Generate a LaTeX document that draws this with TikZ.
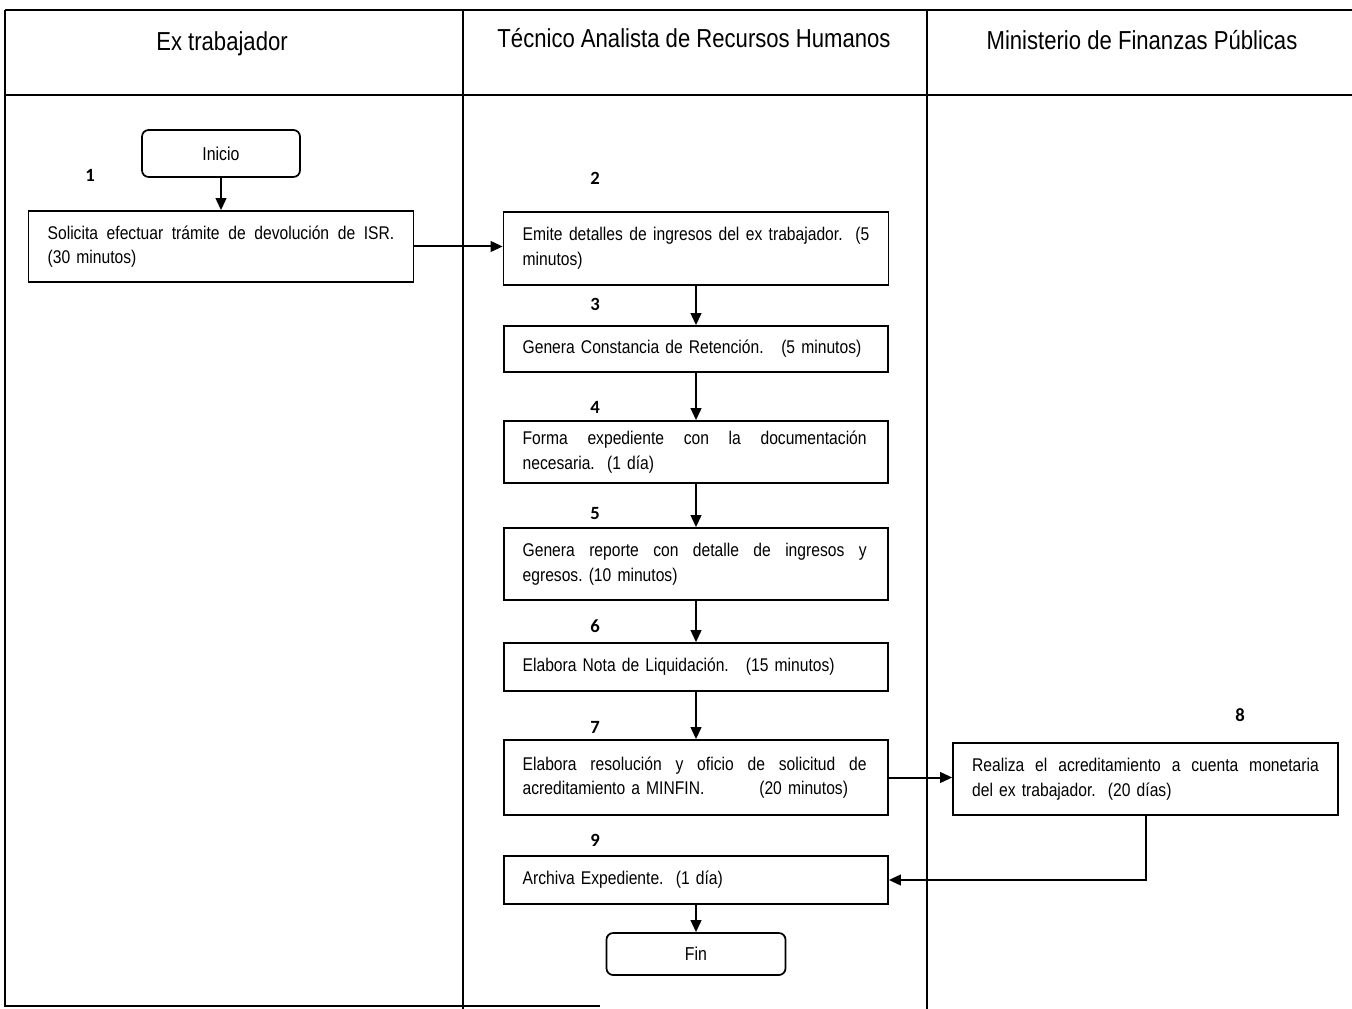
\documentclass[tikz,border=0pt]{standalone}
\usepackage{fontspec}
\setmainfont{Liberation Sans}[FakeStretch=0.85]
\newfontfamily\numfont{Carlito}
\usetikzlibrary{arrows.meta}
\tikzset{
  lane/.style={line width=1.4pt},
  box/.style={draw, line width=1.3pt, rectangle, inner sep=0pt, align=left,
    text width=260pt, font=\fontsize{13.8}{18.5}\selectfont},
  term/.style={draw, line width=1.3pt, rectangle, rounded corners=5pt, inner sep=0pt,
    font=\fontsize{14}{17}\selectfont},
  head/.style={font=\fontsize{19.5}{22}\selectfont},
  num/.style={font=\numfont\bfseries\fontsize{14}{16}\selectfont},
  flow/.style={line width=1.5pt, -{Triangle[length=9pt,width=8pt]}}
}
\newcommand{\jl}[2][260pt]{\makebox[#1][l]{#2}}
\newcommand{\g}{\hfill}
\begin{document}
\begin{tikzpicture}[x=0.75pt, y=-0.75pt]
\useasboundingbox (0,0) rectangle (1352,1009);
% frame and lanes
\draw[lane] (5,10) -- (1352,10);
\draw[lane] (5,95) -- (1352,95);
\draw[lane] (5,10) -- (5,1006) -- (600,1006);
\draw[lane] (463,10) -- (463,1009);
\draw[lane] (927,10) -- (927,1009);
% headers
\node[head] (h1) at (222,44) {Ex trabajador};
\node[head] (h2) at (694,38) {Técnico Analista de Recursos Humanos};
\node[head] (h3) at (1142,40) {Ministerio de Finanzas Públicas};
% terminals
\node[term, minimum width=158*0.75pt, minimum height=47*0.75pt] (ini) at (221,153.5) {Inicio};
\node[term, minimum width=179*0.75pt, minimum height=42*0.75pt] (fin) at (696,954) {Fin};
% boxes
\node[box, minimum width=385*0.75pt, minimum height=71*0.75pt] (b1) at (221,246.5)
  {\jl{Solicita\g efectuar\g trámite\g de\g devolución\g de\g ISR.}\\(30 minutos)};
\node[box, minimum width=385*0.75pt, minimum height=73*0.75pt] (b2) at (696,248.5)
  {\jl{Emite\g detalles\g de\g ingresos\g del\g ex\g trabajador.\g\g (5}\\minutos)};
\node[box, minimum width=384*0.75pt, minimum height=46*0.75pt] (b3) at (696,349)
  {\jl[254pt]{Genera Constancia de Retención.\g(5 minutos)}};
\node[box, minimum width=384*0.75pt, minimum height=62*0.75pt] (b4) at (696,452)
  {\jl[258pt]{Forma\g expediente\g con\g la\g documentación}\\necesaria.\ \ (1 día)};
\node[box, minimum width=384*0.75pt, minimum height=72*0.75pt] (b5) at (696,564)
  {\jl[258pt]{Genera\g reporte\g con\g detalle\g de\g ingresos\g y}\\egresos.\ (10 minutos)};
\node[box, minimum width=384*0.75pt, minimum height=48*0.75pt] (b6) at (696,667)
  {\jl[234pt]{Elabora Nota de Liquidación.\g(15 minutos)}};
\node[box, minimum width=384*0.75pt, minimum height=75*0.75pt] (b7) at (696,777.5)
  {\jl[258pt]{Elabora\g resolución\g y\g oficio\g de\g solicitud\g de}\\\jl[244pt]{acreditamiento a MINFIN.\g(20 minutos)}};
\node[box, minimum width=385*0.75pt, minimum height=72*0.75pt] (b8) at (1145.5,779)
  {\jl{Realiza\g el\g acreditamiento\g a\g cuenta\g monetaria}\\del ex trabajador.\ \ (20 días)};
\node[box, minimum width=384*0.75pt, minimum height=48*0.75pt] (b9) at (696,880)
  {Archiva Expediente.\ \ (1 día)};
% step numbers
\node[num] (n1) at (90,175) {1};
\node[num] (n2) at (595,178) {2};
\node[num] (n3) at (595,304) {3};
\node[num] (n4) at (595,407) {4};
\node[num] (n5) at (595,514) {5};
\node[num] (n6) at (595,626) {6};
\node[num] (n7) at (595,727) {7};
\node[num] (n8) at (1240,715) {8};
\node[num] (n9) at (595,840) {9};
% connectors
\draw[flow] (ini.south) -- (b1.north);
\draw[flow] (b1.east) -- (b1.east -| b2.west);
\draw[flow] (b2.south) -- (b3.north);
\draw[flow] (b3.south) -- (b4.north);
\draw[flow] (b4.south) -- (b5.north);
\draw[flow] (b5.south) -- (b6.north);
\draw[flow] (b6.south) -- (b7.north);
\draw[flow] (b7.east) -- (b7.east -| b8.west);
\draw[flow] (b8.south) |- (b9.east);
\draw[flow] (b9.south) -- (fin.north);
\end{tikzpicture}
\end{document}
